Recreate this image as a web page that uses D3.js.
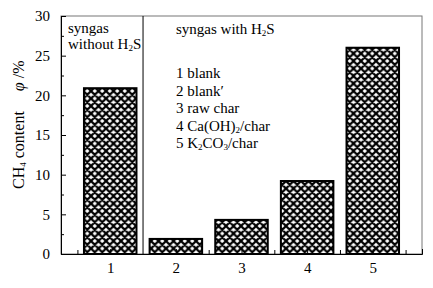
<!DOCTYPE html>
<html>
<head>
<meta charset="utf-8">
<script src="https://cdn.jsdelivr.net/npm/d3@7"></script>
<style>
  body { margin: 0; background: #fff; }
  svg text { font-family: "Times New Roman", "Liberation Serif", "DejaVu Serif", serif !important; fill: #000; }
</style>
</head>
<body>
<div id="chart"></div>
<script>
// data
var samples = [1, 2, 3, 4, 5];
var ch4Content = [20.9, 1.9, 4.3, 9.2, 26.0];
var yTicks = [0, 5, 10, 15, 20, 25, 30];
var yMinorTicks = [2.5, 7.5, 12.5, 17.5, 22.5, 27.5];
var xMinorTicks = [0.5, 2.5, 3.5, 4.5, 5.5];
var legendLines = [
    ["1 blank"],
    ["2 blank\u2032"],
    ["3 raw char"],
    ["4 Ca(OH)", "2", "/char"],
    ["5 K", "2", "CO", "3", "/char"]
];

// set the dimensions and margins of the graph
const margin = { top: 16, right: 11, bottom: 34, left: 61 },
    width = 433 - margin.left - margin.right,
    height = 288 - margin.top - margin.bottom;

const svg = d3.select("#chart")
    .append("svg")
    .attr("width", width + margin.left + margin.right)
    .attr("height", height + margin.top + margin.bottom)
    .append("g")
    .attr("transform", `translate(${margin.left}, ${margin.top})`);

// cross hatch fill
var pat = svg.append("defs")
    .append("pattern")
    .attr("id", "hatch")
    .attr("patternUnits", "userSpaceOnUse")
    .attr("width", 7.5).attr("height", 7.5);
pat.append("rect").attr("width", 7.5).attr("height", 7.5).attr("fill", "#fff");
pat.append("path")
    .attr("d", "M0,0L7.5,7.5M7.5,0L0,7.5M-1,6.5L1,8.5M6.5,-1L8.5,1M-1,1L1,-1M6.5,8.5L8.5,6.5")
    .attr("stroke", "#000")
    .attr("stroke-width", 2.2);

var x = d3.scaleLinear().domain([0.25, 5.75]).range([0, width]);
var y = d3.scaleLinear().domain([0, 30]).range([height, 0]);

// frame
svg.append("rect")
    .attr("width", width).attr("height", height)
    .attr("fill", "none")
    .attr("stroke", "#777");

// bars
var barW = x(0.8) - x(0);
svg.selectAll(".bar")
    .data(samples)
    .enter()
    .append("rect")
    .attr("class", "bar")
    .attr("x", d => x(d) - barW / 2)
    .attr("y", (d, i) => y(ch4Content[i]))
    .attr("width", barW)
    .attr("height", (d, i) => y(0) - y(ch4Content[i]))
    .attr("fill", "url(#hatch)")
    .attr("stroke", "#000")
    .attr("stroke-width", 2);

// divider between the two groups
svg.append("line")
    .attr("x1", x(1.5)).attr("x2", x(1.5))
    .attr("y1", 0).attr("y2", height)
    .attr("stroke", "#000");

// Y axis, ticks pointing inward
var y_axis = svg.append("g")
    .call(d3.axisLeft(y).tickValues(yTicks).tickSize(-5).tickPadding(11));
y_axis.append("g")
    .call(d3.axisLeft(y).tickValues(yMinorTicks).tickSize(-3).tickFormat(""))
    .select(".domain").remove();

// X axis
var x_axis = svg.append("g")
    .attr("transform", "translate(0," + height + ")")
    .call(d3.axisBottom(x).tickValues(samples).tickSize(-5).tickPadding(8).tickFormat(d3.format("d")));
x_axis.append("g")
    .call(d3.axisBottom(x).tickValues(xMinorTicks).tickSize(-4).tickFormat(""))
    .select(".domain").remove();

svg.selectAll("g").attr("font-family", null);
svg.selectAll(".tick text").attr("font-size", "15px");
svg.selectAll(".domain, .tick line").attr("stroke", "#000");

// helper for text with subscripts
function addSub(txt, parts) {
    parts.forEach(function (p, i) {
        var t = txt.append("tspan").text(p);
        if (i % 2 == 1) t.attr("font-size", "9px").attr("baseline-shift", "-2");
    });
}

var fs = "15px";
svg.append("text").attr("x", 7).attr("y", 17).attr("font-size", fs).text("syngas");
addSub(svg.append("text").attr("x", 7).attr("y", 33).attr("font-size", fs), ["without H", "2", "S"]);
addSub(svg.append("text").attr("x", 115).attr("y", 18).attr("font-size", fs), ["syngas with H", "2", "S"]);

legendLines.forEach(function (parts, i) {
    addSub(svg.append("text")
        .attr("x", 115)
        .attr("y", 62 + i * 17.5)
        .attr("font-size", fs), parts);
});

// Y label
var ylab = svg.append("text")
    .attr("transform", "translate(" + (24 - margin.left) + "," + (189 - margin.top) + ") rotate(-90)")
    .attr("font-size", "16px");
addSub(ylab, ["CH", "4", " content"]);
ylab.append("tspan").attr("dx", 20).attr("font-style", "italic").text("\u03c6");
ylab.append("tspan").text(" /%");
</script>
</body>
</html>
